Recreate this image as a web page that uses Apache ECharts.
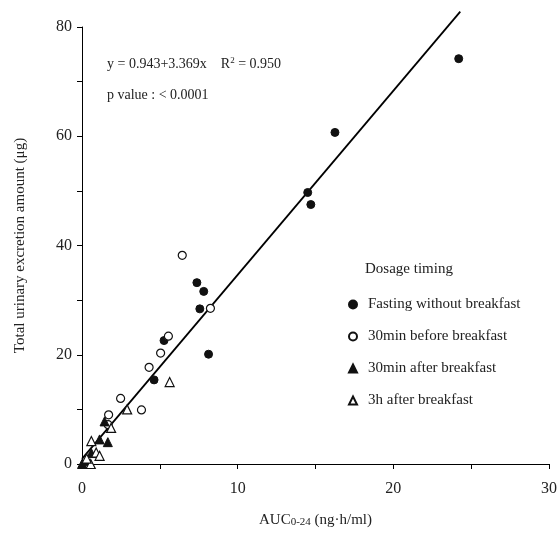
<!DOCTYPE html>
<html>
<head>
<meta charset="utf-8">
<script src="https://cdn.jsdelivr.net/npm/echarts@6/dist/echarts.min.js"></script>
<style>
  html, body { margin: 0; padding: 0; background: #fff; }
  #main { width: 560px; height: 533px; }
</style>
</head>
<body>
<div id="main"></div>
<script>
// by group
var fastingX = [24.2, 16.25, 14.5, 14.7, 7.38, 7.82, 7.57, 8.13, 5.27, 4.63];
var fastingY = [74.2, 60.7, 49.7, 47.5, 33.2, 31.6, 28.4, 20.1, 22.6, 15.4];

var beforeX = [6.44, 8.25, 5.55, 5.05, 4.31, 3.82, 2.48, 1.71, 1.68];
var beforeY = [38.2, 28.5, 23.4, 20.3, 17.7, 9.9, 12.0, 9.0, 7.2];

var afterX = [1.45, 1.13, 1.66, 0.28, 0, 0.6];
var afterY = [7.8, 4.5, 4.0, 0.5, 0, 2.0];

var threeHX = [5.63, 2.9, 1.87, 0.6, 0.91, 1.13, 0.56, 0.3];
var threeHY = [15.0, 10.0, 6.6, 4.2, 2.1, 1.5, 0, 1.0];

var groupNames = ['Fasting without breakfast', '30min before breakfast', '30min after breakfast', '3h after breakfast'];

// regression y = a + b x
var intercept = 0.943;
var slope = 3.369;
var lineStartX = 0;
var lineEndX = 24.3;

var xTicks = [0, 10, 20, 30];
var yTicks = [0, 20, 40, 60, 80];

function pairs(xs, ys) {
    var out = [];
    for (var i = 0; i < xs.length; i++) {
        out.push([xs[i], ys[i]]);
    }
    return out;
}

var fontFam = "'Liberation Serif', 'DejaVu Serif', serif";
var txtColor = '#222';

var chartDom = document.getElementById('main');
var myChart = echarts.init(chartDom);

var option = {
    animation: false,
    backgroundColor: '#fff',
    grid: { left: 82, right: 9, top: 27, bottom: 65 },
    xAxis: {
        type: 'value',
        min: 0, max: 30, interval: 5,
        name: 'AUC{sub|0-24} (ng·h/ml)',
        nameLocation: 'middle',
        nameGap: 48,
        nameTextStyle: {
            fontFamily: fontFam, fontSize: 15, color: txtColor,
            rich: { sub: { fontFamily: fontFam, fontSize: 11, color: txtColor, padding: [5, 0, 0, 0] } }
        },
        splitLine: { show: false },
        axisLine: { lineStyle: { color: '#000', width: 1 } },
        axisTick: { length: 5, lineStyle: { color: '#000' } },
        axisLabel: {
            fontFamily: fontFam, fontSize: 16, color: txtColor, margin: 17,
            formatter: function (v) { return xTicks.indexOf(v) >= 0 ? String(v) : ''; }
        }
    },
    yAxis: {
        type: 'value',
        min: 0, max: 80, interval: 10,
        name: 'Total urinary excretion amount (μg)',
        nameLocation: 'middle',
        nameGap: 54,
        nameTextStyle: { fontFamily: fontFam, fontSize: 15, color: txtColor },
        splitLine: { show: false },
        axisLine: { show: true, lineStyle: { color: '#000', width: 1 } },
        axisTick: { show: true, length: 5, lineStyle: { color: '#000' } },
        axisLabel: {
            fontFamily: fontFam, fontSize: 16, color: txtColor, margin: 10,
            formatter: function (v) { return yTicks.indexOf(v) >= 0 ? String(v) : ''; }
        }
    },
    legend: {
        orient: 'vertical',
        left: 343,
        top: 292,
        itemGap: 17,
        itemWidth: 8,
        itemHeight: 8,
        data: groupNames,
        textStyle: { fontFamily: fontFam, fontSize: 15, color: txtColor, padding: [0, 0, 0, 6] }
    },
    graphic: [
        {
            type: 'text', left: 365, top: 262,
            style: { text: 'Dosage timing', font: '15px ' + fontFam, fill: txtColor }
        },
        {
            type: 'text', left: 107, top: 56,
            style: {
                text: 'y = 0.943+3.369x    R{sup|2} = 0.950',
                font: '14px ' + fontFam, fill: txtColor,
                rich: { sup: { fontFamily: fontFam, fontSize: 9, fill: txtColor, padding: [0, 0, 8, 0] } }
            }
        },
        {
            type: 'text', left: 107, top: 88,
            style: { text: 'p value : < 0.0001', font: '14px ' + fontFam, fill: txtColor }
        }
    ],
    series: [
        {
            type: 'line',
            data: [[lineStartX, intercept + slope * lineStartX], [lineEndX, intercept + slope * lineEndX]],
            showSymbol: false,
            clip: false,
            silent: true,
            lineStyle: { color: '#000', width: 1.8 },
            z: 1
        },
        {
            name: groupNames[0], type: 'scatter', clip: false,
            data: pairs(fastingX, fastingY),
            symbol: 'circle', symbolSize: 8,
            itemStyle: { color: '#111', borderColor: '#111', borderWidth: 1, opacity: 1 },
            z: 3
        },
        {
            name: groupNames[1], type: 'scatter', clip: false,
            data: pairs(beforeX, beforeY),
            symbol: 'circle', symbolSize: 8,
            itemStyle: { color: '#fff', borderColor: '#111', borderWidth: 1.2, opacity: 1 },
            z: 3
        },
        {
            name: groupNames[2], type: 'scatter', clip: false,
            data: pairs(afterX, afterY),
            symbol: 'triangle', symbolSize: 9,
            itemStyle: { color: '#111', borderColor: '#111', borderWidth: 1, opacity: 1 },
            z: 3
        },
        {
            name: groupNames[3], type: 'scatter', clip: false,
            data: pairs(threeHX, threeHY),
            symbol: 'triangle', symbolSize: 9,
            itemStyle: { color: '#fff', borderColor: '#111', borderWidth: 1.2, opacity: 1 },
            z: 3
        }
    ]
};

myChart.setOption(option);
</script>
</body>
</html>
